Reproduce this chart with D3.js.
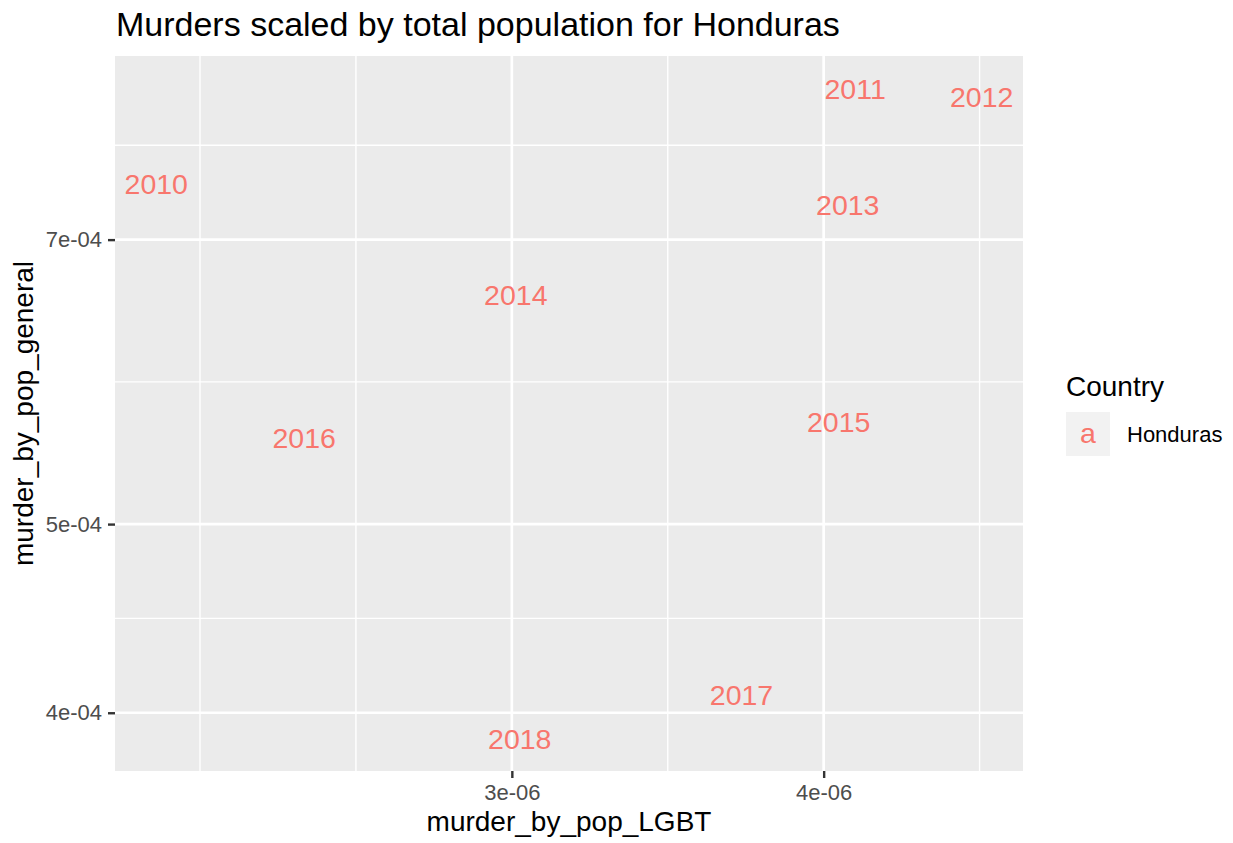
<!DOCTYPE html>
<html>
<head>
<meta charset="utf-8">
<script src="https://cdn.jsdelivr.net/npm/d3@7"></script>
<style>
  html, body { margin: 0; padding: 0; background: #fff; }
  svg { display: block; font-family: "Liberation Sans", Arial, Helvetica, sans-serif; }
</style>
</head>
<body>
<svg id="chart" width="1233" height="843"></svg>
<script>
// Murders per head of population, Honduras, one label per year
const years = ["2010", "2011", "2012", "2013", "2014", "2015", "2016", "2017", "2018"];
const murderByPopLGBT = [2.161e-6, 4.118e-6, 4.628e-6, 4.090e-6, 3.011e-6, 4.056e-6, 2.477e-6, 3.708e-6, 3.022e-6];
const murderByPopGeneral = [7.481e-4, 8.370e-4, 8.291e-4, 7.293e-4, 6.562e-4, 5.643e-4, 5.536e-4, 4.084e-4, 3.880e-4];
const xTicks = [3e-6, 4e-6];
const xTickLabels = ["3e-06", "4e-06"];
const yTicks = [4e-4, 5e-4, 7e-4];
const yTickLabels = ["4e-04", "5e-04", "7e-04"];
const countries = ["Honduras"];

const svg = d3.select("#chart");
const panel = { left: 115, right: 1023, top: 56, bottom: 771 };
const labelColor = "#F8766D";

// log10 domains padded by 5% of the data span on each side
function paddedLogDomain(values) {
  const ext = d3.extent(values, v => Math.log10(v));
  const pad = (ext[1] - ext[0]) * 0.05;
  return [Math.pow(10, ext[0] - pad), Math.pow(10, ext[1] + pad)];
}

const x = d3.scaleLog().domain(paddedLogDomain(murderByPopLGBT)).range([panel.left, panel.right]);
const y = d3.scaleLog().domain(paddedLogDomain(murderByPopGeneral)).range([panel.bottom, panel.top]);

// minor breaks: midpoints in log space between majors, extended by one step at each end
function minorBreaks(majors, scale) {
  const lb = majors.map(v => Math.log10(v));
  const step = lb[1] - lb[0];
  const dom = scale.domain().map(v => Math.log10(v));
  const lo = Math.min(...dom), hi = Math.max(...dom);
  const b = lb.slice();
  if (lo < b[0]) b.unshift(b[0] - step);
  if (hi > b[b.length - 1]) b.push(b[b.length - 1] + step);
  const out = [];
  for (let i = 0; i < b.length - 1; i++) { out.push(b[i], (b[i] + b[i + 1]) / 2); }
  out.push(b[b.length - 1]);
  return out.filter(v => v >= lo && v <= hi).map(v => Math.pow(10, v));
}

// panel background
svg.append("rect")
  .attr("x", panel.left).attr("y", panel.top)
  .attr("width", panel.right - panel.left).attr("height", panel.bottom - panel.top)
  .attr("fill", "#EBEBEB");

const grid = svg.append("g");
grid.selectAll(".xminor").data(minorBreaks(xTicks, x)).join("line")
  .attr("x1", d => x(d)).attr("x2", d => x(d))
  .attr("y1", panel.top).attr("y2", panel.bottom)
  .attr("stroke", "#fff").attr("stroke-width", 1.4);
grid.selectAll(".yminor").data(minorBreaks(yTicks, y)).join("line")
  .attr("y1", d => y(d)).attr("y2", d => y(d))
  .attr("x1", panel.left).attr("x2", panel.right)
  .attr("stroke", "#fff").attr("stroke-width", 1.4);
grid.selectAll(".xmajor").data(xTicks).join("line")
  .attr("x1", d => x(d)).attr("x2", d => x(d))
  .attr("y1", panel.top).attr("y2", panel.bottom)
  .attr("stroke", "#fff").attr("stroke-width", 2.7);
grid.selectAll(".ymajor").data(yTicks).join("line")
  .attr("y1", d => y(d)).attr("y2", d => y(d))
  .attr("x1", panel.left).attr("x2", panel.right)
  .attr("stroke", "#fff").attr("stroke-width", 2.7);

// axes
const xAxis = d3.axisBottom(x).tickValues(xTicks)
  .tickFormat((d, i) => xTickLabels[i]).tickSizeInner(7).tickSizeOuter(0).tickPadding(6);
const gx = svg.append("g").attr("transform", `translate(0,${panel.bottom})`).call(xAxis);
gx.select(".domain").remove();
gx.selectAll(".tick line").attr("stroke", "#333").attr("stroke-width", 2.4);
gx.selectAll(".tick text").attr("fill", "#4D4D4D").attr("font-size", 22)
  .attr("font-family", "Liberation Sans, Arial, sans-serif");

const yAxis = d3.axisLeft(y).tickValues(yTicks)
  .tickFormat((d, i) => yTickLabels[i]).tickSizeInner(7).tickSizeOuter(0).tickPadding(6);
const gy = svg.append("g").attr("transform", `translate(${panel.left},0)`).call(yAxis);
gy.select(".domain").remove();
gy.selectAll(".tick line").attr("stroke", "#333").attr("stroke-width", 2.4);
gy.selectAll(".tick text").attr("fill", "#4D4D4D").attr("font-size", 22)
  .attr("font-family", "Liberation Sans, Arial, sans-serif");

// year labels placed at each observation
svg.append("g").selectAll("text").data(years).join("text")
  .attr("x", (d, i) => x(murderByPopLGBT[i]))
  .attr("y", (d, i) => y(murderByPopGeneral[i]))
  .attr("dy", "0.36em")
  .attr("text-anchor", "middle")
  .attr("font-size", 28.5)
  .attr("fill", labelColor)
  .text(d => d);

// titles
svg.append("text").attr("x", 116).attr("y", 36)
  .attr("font-size", 34).attr("fill", "#000")
  .text("Murders scaled by total population for Honduras");
svg.append("text").attr("x", (panel.left + panel.right) / 2).attr("y", 831)
  .attr("text-anchor", "middle").attr("font-size", 28).attr("fill", "#000")
  .text("murder_by_pop_LGBT");
svg.append("text")
  .attr("transform", `translate(33,${(panel.top + panel.bottom) / 2}) rotate(-90)`)
  .attr("text-anchor", "middle").attr("font-size", 28).attr("fill", "#000")
  .text("murder_by_pop_general");

// legend
const legend = svg.append("g").attr("transform", "translate(1066,0)");
legend.append("text").attr("x", 0).attr("y", 396)
  .attr("font-size", 28).attr("fill", "#000").text("Country");
const keys = legend.selectAll("g.key").data(countries).join("g")
  .attr("class", "key")
  .attr("transform", (d, i) => `translate(0,${412 + i * 44})`);
keys.append("rect").attr("width", 44).attr("height", 44).attr("fill", "#F2F2F2");
keys.append("text").attr("x", 22).attr("y", 22).attr("dy", "0.3em")
  .attr("text-anchor", "middle").attr("font-size", 28.5).attr("fill", labelColor).text("a");
keys.append("text").attr("x", 61).attr("y", 22).attr("dy", "0.36em")
  .attr("font-size", 22).attr("fill", "#000").text(d => d);
</script>
</body>
</html>
